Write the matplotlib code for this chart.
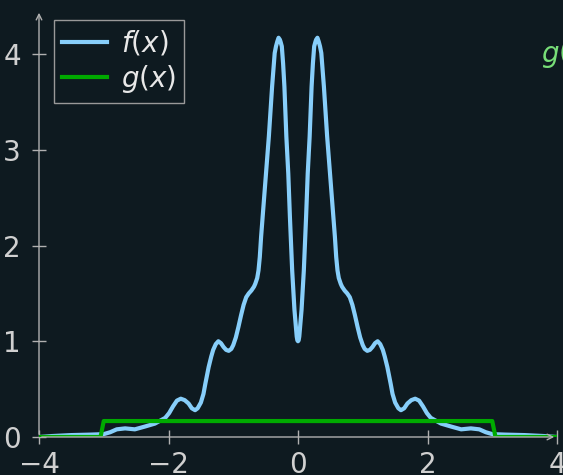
import numpy as np
import matplotlib.pyplot as plt

# f(x) 读数（左半边，右半边对称）
x_left = [-4.0, -3.8, -3.5, -3.2, -3.0, -2.9, -2.8, -2.67, -2.52, -2.36,
          -2.21, -2.05, -1.99, -1.93, -1.87, -1.81, -1.75, -1.69, -1.64, -1.59,
          -1.55, -1.50, -1.46, -1.43, -1.38, -1.34, -1.31, -1.27, -1.23, -1.19,
          -1.15, -1.11, -1.07, -1.03, -1.00, -0.96, -0.92, -0.88, -0.84, -0.80,
          -0.76, -0.72, -0.68, -0.66, -0.63, -0.61, -0.59, -0.57, -0.53, -0.49,
          -0.45, -0.40, -0.36, -0.34, -0.32, -0.30, -0.28, -0.27, -0.25, -0.23,
          -0.21, -0.18, -0.15, -0.125, -0.09, -0.055, -0.035, -0.02, -0.01, 0.0]
f_left = [0.0, 0.01, 0.02, 0.025, 0.03, 0.05, 0.08, 0.09, 0.08, 0.11,
          0.14, 0.20, 0.25, 0.32, 0.38, 0.40, 0.385, 0.35, 0.30, 0.28,
          0.30, 0.36, 0.45, 0.56, 0.73, 0.84, 0.91, 0.97, 1.00, 0.98,
          0.94, 0.91, 0.90, 0.92, 0.96, 1.04, 1.15, 1.27, 1.38, 1.46,
          1.50, 1.53, 1.57, 1.60, 1.66, 1.74, 1.88, 2.09, 2.44, 2.79,
          3.14, 3.66, 4.01, 4.08, 4.13, 4.17, 4.15, 4.13, 4.08, 3.90,
          3.66, 3.14, 2.75, 2.30, 1.74, 1.33, 1.17, 1.05, 1.01, 1.0]

# g(x) 矩形窗
g_x = [-4.0, -3.05, -3.0, 3.0, 3.05, 4.0]
g_y = [0.0, 0.0, 1 / 6, 1 / 6, 0.0, 0.0]

x_f = np.concatenate([x_left, -np.array(x_left[-2::-1])])
y_f = np.concatenate([f_left, f_left[-2::-1]])

bg = '#0e1a20'
axis_c = '#b0b0b0'
text_c = '#d0d0d0'

fig = plt.figure(figsize=(5.63, 4.75), dpi=100, facecolor=bg)
ax = fig.add_axes([39 / 563, 38 / 475, 518 / 563, 427 / 475], facecolor=bg)

ax.plot(x_f, y_f, color='#87cefa', lw=3, label='$f(x)$', solid_joinstyle='round')
ax.plot(g_x, g_y, color='#00aa00', lw=3, label='$g(x)$')

ax.set_xlim(-4, 4)
ax.set_ylim(0, 4.46)
ax.set_xticks([-4, -2, 0, 2, 4])
ax.set_yticks([0, 1, 2, 3, 4])

for s in ax.spines.values():
    s.set_visible(False)
# 带箭头的坐标轴
ax.annotate('', xy=(1.0, 0), xytext=(0, 0), xycoords='axes fraction',
            arrowprops=dict(arrowstyle='->', color=axis_c, lw=1), annotation_clip=False)
ax.annotate('', xy=(0, 1.0), xytext=(0, 0), xycoords='axes fraction',
            arrowprops=dict(arrowstyle='->', color=axis_c, lw=1), annotation_clip=False)

ax.tick_params(direction='inout', length=10, width=1, color=axis_c,
               labelcolor=text_c, labelsize=20)
ax.tick_params(axis='x', pad=5)
ax.tick_params(axis='y', pad=8)

leg = ax.legend(loc='upper left', bbox_to_anchor=(15 / 518, 1 - 10 / 427),
                borderaxespad=0, fontsize=20, frameon=True, fancybox=False,
                handlelength=1.6, borderpad=0.3, labelspacing=0.2, handletextpad=0.5)
leg.get_frame().set_facecolor(bg)
leg.get_frame().set_edgecolor('#999999')
leg.get_frame().set_alpha(1)
for t in leg.get_texts():
    t.set_color('#e8e8e8')

ax.text(3.76, 3.92, '$g(x)$', color='#77dd77', fontsize=20, clip_on=False)

fig.savefig('out.png', dpi=100, facecolor=bg)
